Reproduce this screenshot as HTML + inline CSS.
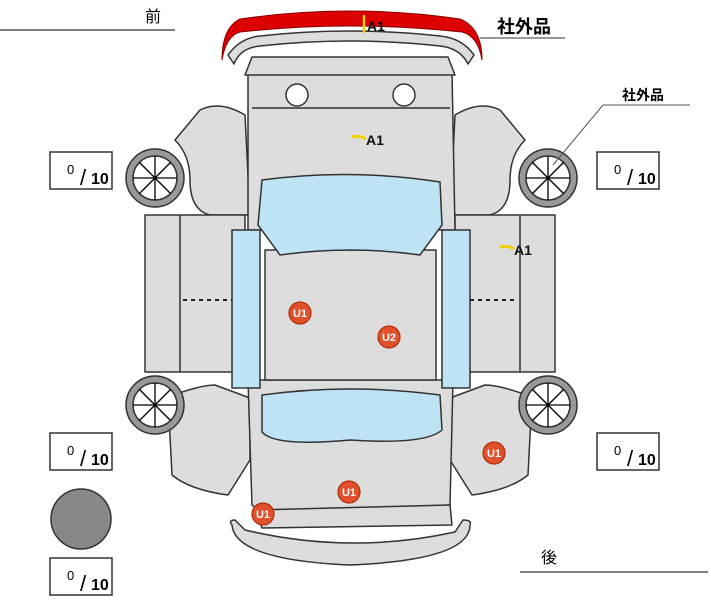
<!DOCTYPE html>
<html><head><meta charset="utf-8"><style>
html,body{margin:0;padding:0;background:#fff;width:711px;height:600px;overflow:hidden}
svg{display:block}
text{font-family:"Liberation Sans","Noto Sans CJK JP",sans-serif}
</style></head><body>
<svg width="711" height="600" viewBox="0 0 711 600" xmlns="http://www.w3.org/2000/svg">
<defs>
<g id="wheel">
<circle r="29" fill="#999" stroke="#333" stroke-width="1.5"/>
<circle r="22" fill="#fff" stroke="#333" stroke-width="1.5"/>
<g stroke="#000" stroke-width="1.3">
<line x1="-22" y1="0" x2="22" y2="0"/><line x1="0" y1="-22" x2="0" y2="22"/>
<line x1="-15.5" y1="-15.5" x2="15.5" y2="15.5"/><line x1="-15.5" y1="15.5" x2="15.5" y2="-15.5"/>
</g></g>
<g id="box"><rect width="62" height="37" fill="#fff" stroke="#333" stroke-width="1.5"/>
<text x="17" y="22" font-size="13">0</text><text x="30" y="33" font-size="22">/</text><text x="41" y="32" font-size="16" font-weight="bold">10</text></g>
<g id="u"><circle r="11" fill="#e0502a" stroke="#b03010" stroke-width="1.2"/></g>
</defs>
<g stroke="#333" stroke-width="1.5" fill="#ddd" stroke-linejoin="round">
<path d="M175,140 L200,110 Q220,100 245,115 L250,215 L210,215 Q190,210 190,180 Q190,155 175,140Z"/>
<path d="M525,140 L500,110 Q480,100 455,115 L450,215 L490,215 Q510,210 510,180 Q510,155 525,140Z"/>
<rect x="145" y="215" width="100" height="157"/>
<line x1="180" y1="215" x2="180" y2="372"/>
<rect x="455" y="215" width="100" height="157"/>
<line x1="520" y1="215" x2="520" y2="372"/>
<path d="M168,397 Q200,385 215,385 L250,398 L250,460 L228,495 Q190,490 172,475Z"/>
<path d="M532,397 Q500,385 485,385 L450,398 L450,460 L472,495 Q510,490 528,475Z"/>
<path d="M248,72 L452,72 L455,230 L248,230Z"/>
<path d="M252,57 L448,57 L455,75 L245,75Z"/>
<line x1="252" y1="108" x2="450" y2="108"/>
<path d="M248,380 L453,380 L450,505 L262,512 L252,505Z"/>
<path d="M255,510 L450,505 L452,525 L262,528Z"/>
<path d="M265,250 L436,250 L436,380 L265,380Z"/>
<path d="M232,525 Q228,520 235,520 L245,530 Q350,555 455,532 L463,520 Q472,520 470,525 Q470,560 350,565 Q235,560 232,525Z"/>
<path d="M228,55 Q240,38 260,36 Q350,26 440,36 Q462,38 474,55 L468,64 Q460,48 440,46 Q350,36 260,46 Q240,48 234,64Z"/>
</g>
<path d="M222,60 Q222,28 240,19 Q350,3 460,19 Q482,28 482,60 Q478,36 462,32 Q350,20 240,32 Q226,36 222,60Z" fill="#dd0000" stroke="#800" stroke-width="1"/>
<line x1="364" y1="15" x2="364" y2="33" stroke="#f0d000" stroke-width="2.5"/>
<circle cx="297" cy="95" r="11" fill="#fff" stroke="#333" stroke-width="1.5"/>
<circle cx="404" cy="95" r="11" fill="#fff" stroke="#333" stroke-width="1.5"/>
<g fill="#bde3f5" stroke="#333" stroke-width="1.5">
<path d="M262,180 Q350,168 440,182 L442,225 L420,255 Q350,245 280,255 L258,225Z"/>
<path d="M262,395 Q350,383 440,395 L442,430 Q425,445 350,440 Q275,447 262,432Z"/>
<rect x="232" y="230" width="28" height="158"/>
<rect x="442" y="230" width="28" height="158"/>
</g>
<g stroke="#222" stroke-width="2" stroke-dasharray="4,4">
<line x1="183" y1="300" x2="232" y2="300"/><line x1="470" y1="300" x2="518" y2="300"/>
</g>
<use href="#wheel" x="155" y="178"/><use href="#wheel" x="548" y="178"/>
<use href="#wheel" x="155" y="405"/><use href="#wheel" x="548" y="405"/>
<use href="#box" x="50" y="152"/><use href="#box" x="597" y="152"/>
<use href="#box" x="50" y="433"/><use href="#box" x="597" y="433"/>
<use href="#box" x="50" y="558"/>
<circle cx="81" cy="519" r="30" fill="#888" stroke="#333" stroke-width="1.5"/>
<g font-size="11" font-weight="bold" fill="#fff" text-anchor="middle">
<use href="#u" x="300" y="313"/><text x="300" y="317">U1</text>
<use href="#u" x="389" y="337"/><text x="389" y="341">U2</text>
<use href="#u" x="494" y="453"/><text x="494" y="457">U1</text>
<use href="#u" x="349" y="492"/><text x="349" y="496">U1</text>
<use href="#u" x="263" y="514"/><text x="263" y="518">U1</text>
</g>
<g font-size="14" font-weight="bold" fill="#111">
<text x="367" y="31">A1</text>
<path d="M352,137 Q360,135 366,139" stroke="#f0d000" stroke-width="3" fill="none"/>
<text x="366" y="145">A1</text>
<path d="M500,247 Q508,245 514,249" stroke="#f0d000" stroke-width="3" fill="none"/>
<text x="514" y="255">A1</text>
</g>
<line x1="0" y1="30" x2="175" y2="30" stroke="#333" stroke-width="1.2"/>
<text x="145" y="22" font-size="16">前</text>
<text x="497" y="33" font-size="18" font-weight="bold">社外品</text>
<line x1="480" y1="38" x2="565" y2="38" stroke="#333" stroke-width="1"/>
<text x="622" y="100" font-size="14" font-weight="bold">社外品</text>
<line x1="603" y1="105" x2="690" y2="105" stroke="#555" stroke-width="1"/>
<line x1="603" y1="105" x2="553" y2="165" stroke="#555" stroke-width="1"/>
<text x="541" y="563" font-size="16">後</text>
<line x1="520" y1="572" x2="708" y2="572" stroke="#333" stroke-width="1.2"/>
</svg>
</body></html>
